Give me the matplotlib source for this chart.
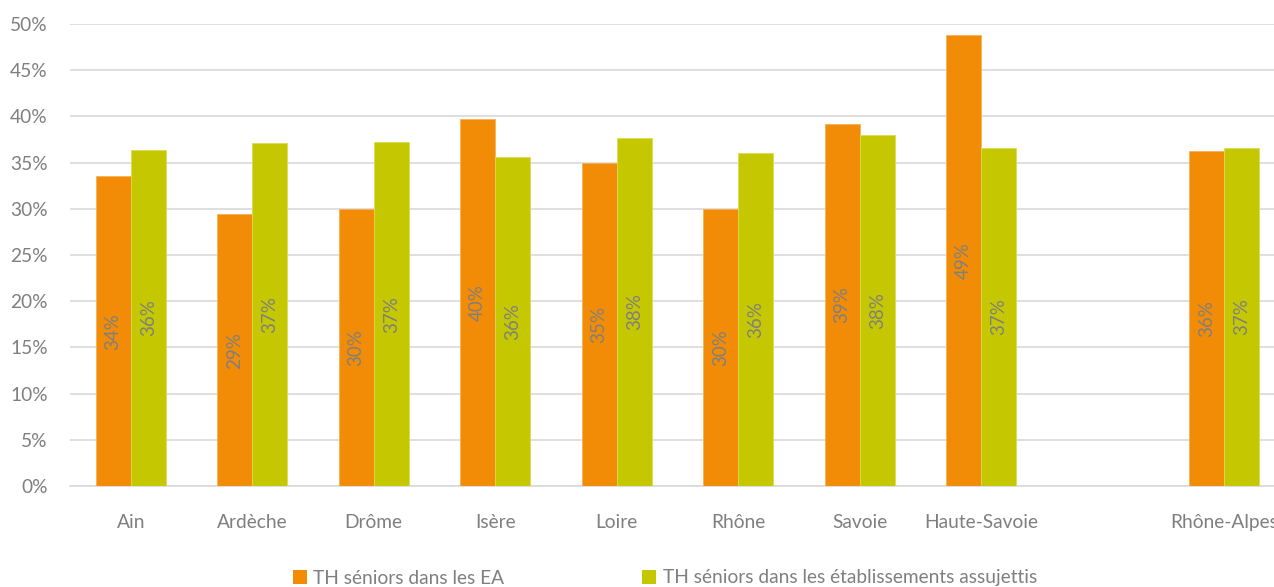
import numpy as np
import matplotlib
matplotlib.use("Agg")
import matplotlib.pyplot as plt
from matplotlib.patches import Patch

plt.rcParams['font.family'] = ['Lato', 'DejaVu Sans']

categories = ["Ain", "Ardèche", "Drôme", "Isère", "Loire", "Rhône",
              "Savoie", "Haute-Savoie", "Rhône-Alpes"]
slots = [0, 1, 2, 3, 4, 5, 6, 7, 9]
ea_values = [33.5, 29.4, 30.0, 39.7, 35.0, 30.0, 39.2, 48.8, 36.3]
assuj_values = [36.4, 37.1, 37.2, 35.6, 37.7, 36.0, 38.0, 36.6, 36.6]
series_names = ["TH séniors dans les EA",
                "TH séniors dans les établissements assujettis"]
y_ticks = [0, 5, 10, 15, 20, 25, 30, 35, 40, 45, 50]

orange = "#F28C07"
green = "#C5C800"
gray = "#7F7F7F"
grid = "#D9D9D9"
fs = 13.8

fig = plt.figure(figsize=(12.74, 5.87), dpi=100)
ax = fig.add_axes([70 / 1274, 1 - 486 / 587, 1215 / 1274, 462 / 587])

x = np.array(slots, dtype=float)
w = 0.29
b1 = ax.bar(x - w / 2, ea_values, w, color=orange, edgecolor="#F6B15A", linewidth=0.6, zorder=3)
b2 = ax.bar(x + w / 2, assuj_values, w, color=green, edgecolor="#D9DB55", linewidth=0.6, zorder=3)

for bars in (b1, b2):
    ax.bar_label(bars, labels=[f"{v:.0f}%" for v in bars.datavalues],
                 label_type="center", rotation=90, color=gray, fontsize=13.5)

ax.set_xlim(-0.5, 9.5)
ax.set_ylim(0, 50)
ax.set_yticks(y_ticks)
ax.set_yticklabels([f"{t}%" for t in y_ticks])
ax.set_xticks(x)
ax.set_xticklabels(categories)
ax.tick_params(axis="both", length=0, colors=gray, labelsize=fs)
ax.tick_params(axis="x", pad=20)
ax.tick_params(axis="y", pad=16)
ax.yaxis.grid(True, color=grid, linewidth=1.2, zorder=0)
ax.set_axisbelow(True)
for side in ("top", "right", "left"):
    ax.spines[side].set_visible(False)
ax.spines["bottom"].set_color(grid)
ax.spines["bottom"].set_linewidth(1.2)

handles = [Patch(facecolor=orange), Patch(facecolor=green)]
fig.legend(handles, series_names, loc="center", bbox_to_anchor=(0.522, 1 - 578 / 587),
           ncol=2, frameon=False, fontsize=fs, labelcolor=gray,
           handlelength=0.7, handleheight=0.7, handletextpad=0.35,
           columnspacing=7.2)

fig.savefig("out.png", dpi=100)
